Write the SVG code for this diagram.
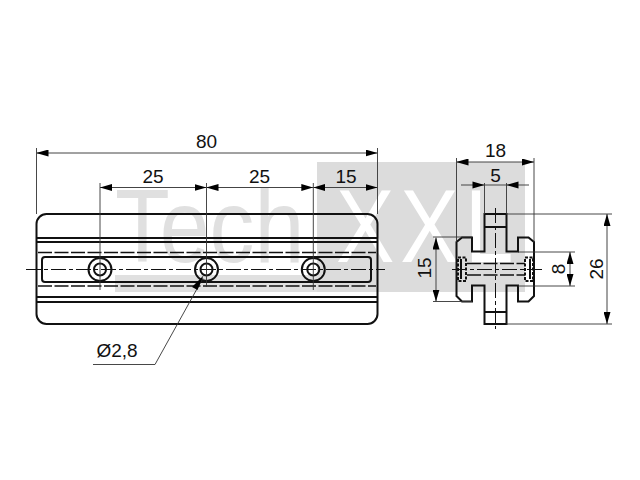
<svg xmlns="http://www.w3.org/2000/svg" width="640" height="480" viewBox="0 0 640 480">
<style>
text{font-family:"Liberation Sans",Arial,sans-serif;font-size:19px;fill:#111;text-anchor:middle}
.w{font-size:103px;text-anchor:start}
.o{fill:none;stroke:#111;stroke-width:2}
.d{fill:none;stroke:#111;stroke-width:1.3;stroke-dasharray:14 2.500}
.c{fill:none;stroke:#111;stroke-width:1;stroke-dasharray:15 3 4 3}
.t{fill:none;stroke:#333;stroke-width:.9}
.a{fill:none;stroke:#444;stroke-width:1;marker-start:url(#s);marker-end:url(#e)}
.b{fill:none;stroke:#444;stroke-width:1}
</style>
<defs>
<marker id="e" markerUnits="userSpaceOnUse" markerWidth="12" markerHeight="7" refX="12" refY="3.500" orient="auto"><path d="M0 0L12 3.500L0 7Z" fill="#000"/></marker>
<marker id="s" markerUnits="userSpaceOnUse" markerWidth="12" markerHeight="7" refX="0" refY="3.500" orient="auto"><path d="M12 0L0 3.500L12 7Z" fill="#000"/></marker>
</defs>
<g id="watermark">
<rect x="317" y="162" width="208" height="130" fill="#dcdcdc"/>
<rect x="115" y="275" width="202" height="17" fill="#e0e0e0"/>
<text class="w" transform="translate(115 262) scale(.87 1)" style="fill:#e0e0e0">Tech</text>
<text class="w" transform="translate(336 262) scale(.85 1)" style="fill:#fff;letter-spacing:7px">XXL</text>
</g>
<g id="front-view">
<rect class="o" x="36.500" y="214" width="341" height="110" rx="10"/>
<path class="o" d="M36.500 238H377.500M36.500 242H377.500M36.500 297H377.500M36.500 302H377.500" stroke-width="1.700"/>
<path class="d" d="M38 252.500H376M38 286H376"/>
<rect class="o" x="42" y="257" width="329" height="25" rx="3"/>
<path class="c" d="M26 269.500H385"/>
</g>
<g id="hole-1"><circle class="o" cx="100" cy="269.500" r="11.500"/><circle class="o" cx="100" cy="269.500" r="6" stroke-width="1.400"/></g>
<g id="hole-2"><circle class="o" cx="206.500" cy="269.500" r="11.500"/><circle class="o" cx="206.500" cy="269.500" r="6" stroke-width="1.400"/></g>
<g id="hole-3"><circle class="o" cx="313.300" cy="269.500" r="11.500"/><circle class="o" cx="313.300" cy="269.500" r="6" stroke-width="1.400"/></g>
<g id="side-view">
<path class="o" d="M484.500 214H506.500V251.500H518V237.500H528.500L534 242V296L528.500 301.500H518V285.500H506.500V324H484.500V285.500H472V301.500H462L456.500 296V242L462 237.500H472V251.500H484.500Z"/>
<path class="o" d="M484.500 227H506.500M484.500 312H506.500" stroke-width="1.500"/>
<path class="d" d="M467 263.500H525M467 275H525" stroke-width="1.100"/>
<path class="c" d="M452 269.500H545M495.500 208V329"/>
<path class="o" stroke-width=".9" d="M458 257.500H466V281H458ZM525 257.500H533V281H525Z" stroke-dasharray="3 1.500"/>
<path class="o" stroke-width="1" d="M461 259V279M530 259V279"/>
</g>
<g id="connectors">
<path class="t" d="M36.500 148V214M100 183V290M206.500 183V287M313.300 183V290M377.500 148V214M456.500 158V242M534 158V242M484.500 183V214M506.500 183V214M506 214H612M506 324H612M518 252H575M518 286H575M433 237H472M433 301.500H472"/>
<path class="a" d="M36.500 153H377.500"/>
<path class="a" d="M100 187.500H206.500"/>
<path class="a" d="M206.500 187.500H313.300"/>
<path class="a" d="M313.300 187.500H377.500"/>
<path class="a" d="M456.500 162H534"/>
<path class="b" d="M461 185H529"/>
<path fill="#000" d="M484.500 185L472.500 181.500V188.500ZM506.500 185L518.500 181.500V188.500Z"/>
<path class="a" d="M436 237.500V301.500"/>
<path class="a" d="M570 252V286"/>
<path class="a" d="M607 214V324"/>
<path class="t" d="M203 278L155 364.500H93"/>
<path fill="#000" d="M203.500 275.500L197.500 290L192 287Z"/>
</g>
<g id="labels">
<text x="206.500" y="148">80</text>
<text x="153" y="183">25</text>
<text x="259.500" y="183">25</text>
<text x="346" y="183">15</text>
<text x="495.500" y="157">18</text>
<text x="495.500" y="181.500">5</text>
<text x="117" y="356.500">Ø2,8</text>
<text transform="translate(430.500 268) rotate(-90)">15</text>
<text transform="translate(565 269) rotate(-90)">8</text>
<text transform="translate(603 269) rotate(-90)">26</text>
</g>
</svg>
